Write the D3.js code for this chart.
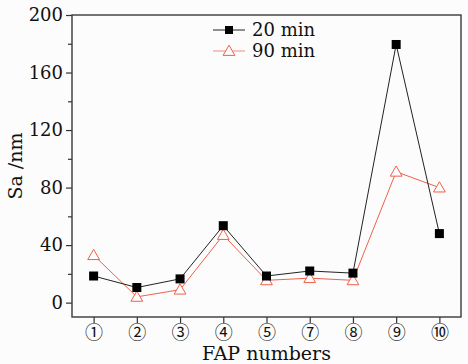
<!DOCTYPE html>
<html lang="en">
  <head>
    <meta charset="UTF-8" />
    <title>Sa vs FAP numbers</title>
    <script src="https://d3js.org/d3.v7.min.js"></script>
    <style>
      body { margin: 0; background: #fcfcfc; }
      text { font-family: "DejaVu Serif", "Liberation Serif", serif; fill: #111; }
      .circ { font-family: "Noto Sans CJK SC", "DejaVu Sans", sans-serif; }
    </style>
  </head>
  <body>
    <div id="chart"></div>
    <script>
      // categories and series
      const fapLabels = ["①", "②", "③", "④", "⑤", "⑦", "⑧", "⑨", "⑩"];
      const sa20 = [18.5, 10.5, 16.5, 53.5, 18.5, 22, 20.5, 179.5, 48];
      const sa90 = [33, 4, 9, 47, 15.5, 17, 15.5, 91, 80];
      const yTicks = [0, 40, 80, 120, 160, 200];
      const yMinor = [20, 60, 100, 140, 180];

      const W = 468, H = 364;
      const margin = { top: 15, right: 7, bottom: 47, left: 72 };
      const width = W - margin.left - margin.right;
      const height = H - margin.top - margin.bottom;

      const svg = d3.select("#chart").append("svg")
        .attr("width", W).attr("height", H);
      const g = svg.append("g")
        .attr("transform", `translate(${margin.left},${margin.top})`);

      const x = d3.scalePoint().domain(fapLabels).range([0, width]).padding(0.5);
      const y = d3.scaleLinear().domain([-10, 200]).range([height, 0]);

      // y axis
      const yAx = g.append("g").call(d3.axisLeft(y).tickValues(yTicks).tickSize(6).tickPadding(3));
      yAx.select(".domain").remove();
      yAx.selectAll("line").attr("stroke", "#333").attr("stroke-width", 1.2);
      yAx.selectAll("text").style("font-size", "18px").attr("fill", "#111")
        .style("font-family", "'DejaVu Serif', serif");
      const yMin = g.append("g").call(d3.axisLeft(y).tickValues(yMinor).tickSize(4).tickFormat(""));
      yMin.select(".domain").remove();
      yMin.selectAll("line").attr("stroke", "#333").attr("stroke-width", 1.2);

      // x axis
      const xAx = g.append("g").attr("transform", `translate(0,${height})`)
        .call(d3.axisBottom(x).tickSize(6).tickPadding(3));
      xAx.select(".domain").remove();
      xAx.selectAll("line").attr("stroke", "#333").attr("stroke-width", 1.2);
      xAx.selectAll("text").attr("class", "circ").style("font-size", "18px").attr("fill", "#111");

      // frame
      g.append("rect").attr("width", width).attr("height", height)
        .attr("fill", "none").attr("stroke", "#3a3a3a").attr("stroke-width", 1.4);

      // lines
      const line = d3.line().x((d, i) => x(fapLabels[i])).y(d => y(d));
      g.append("path").datum(sa90).attr("d", line)
        .attr("fill", "none").attr("stroke", "#f0604c").attr("stroke-width", 1);
      g.append("path").datum(sa20).attr("d", line)
        .attr("fill", "none").attr("stroke", "#222").attr("stroke-width", 1);

      const tri = d3.symbol().type(d3.symbolTriangle).size(60);
      g.selectAll(".tri").data(sa90).join("path")
        .attr("transform", (d, i) => `translate(${x(fapLabels[i])},${y(d) + 1})`)
        .attr("d", tri).attr("fill", "#fcfcfc").attr("stroke", "#f0604c").attr("stroke-width", 1);
      g.selectAll(".sq").data(sa20).join("rect")
        .attr("x", (d, i) => x(fapLabels[i]) - 4.5).attr("y", d => y(d) - 4.5)
        .attr("width", 9).attr("height", 9).attr("fill", "#000");

      // legend
      const lg = g.append("g").attr("transform", "translate(141,15)");
      lg.append("line").attr("x1", 0).attr("x2", 32).attr("y1", 0).attr("y2", 0).attr("stroke", "#222");
      lg.append("rect").attr("x", 12).attr("y", -4).attr("width", 8).attr("height", 8).attr("fill", "#000");
      lg.append("text").attr("x", 39).attr("y", 6).style("font-size", "18px").text("20 min");
      lg.append("line").attr("x1", 0).attr("x2", 32).attr("y1", 21).attr("y2", 21).attr("stroke", "#f28a7c");
      lg.append("path").attr("transform", "translate(16,22)").attr("d", tri)
        .attr("fill", "#fcfcfc").attr("stroke", "#f0604c");
      lg.append("text").attr("x", 39).attr("y", 27).style("font-size", "18px").text("90 min");

      // axis titles
      svg.append("text").attr("x", margin.left + width / 2).attr("y", H - 4)
        .attr("text-anchor", "middle").style("font-size", "19px").text("FAP numbers");
      svg.append("text").attr("transform", `translate(22,${margin.top + height / 2}) rotate(-90)`)
        .attr("text-anchor", "middle").style("font-size", "19px").text("Sa /nm");
    </script>
  </body>
</html>
